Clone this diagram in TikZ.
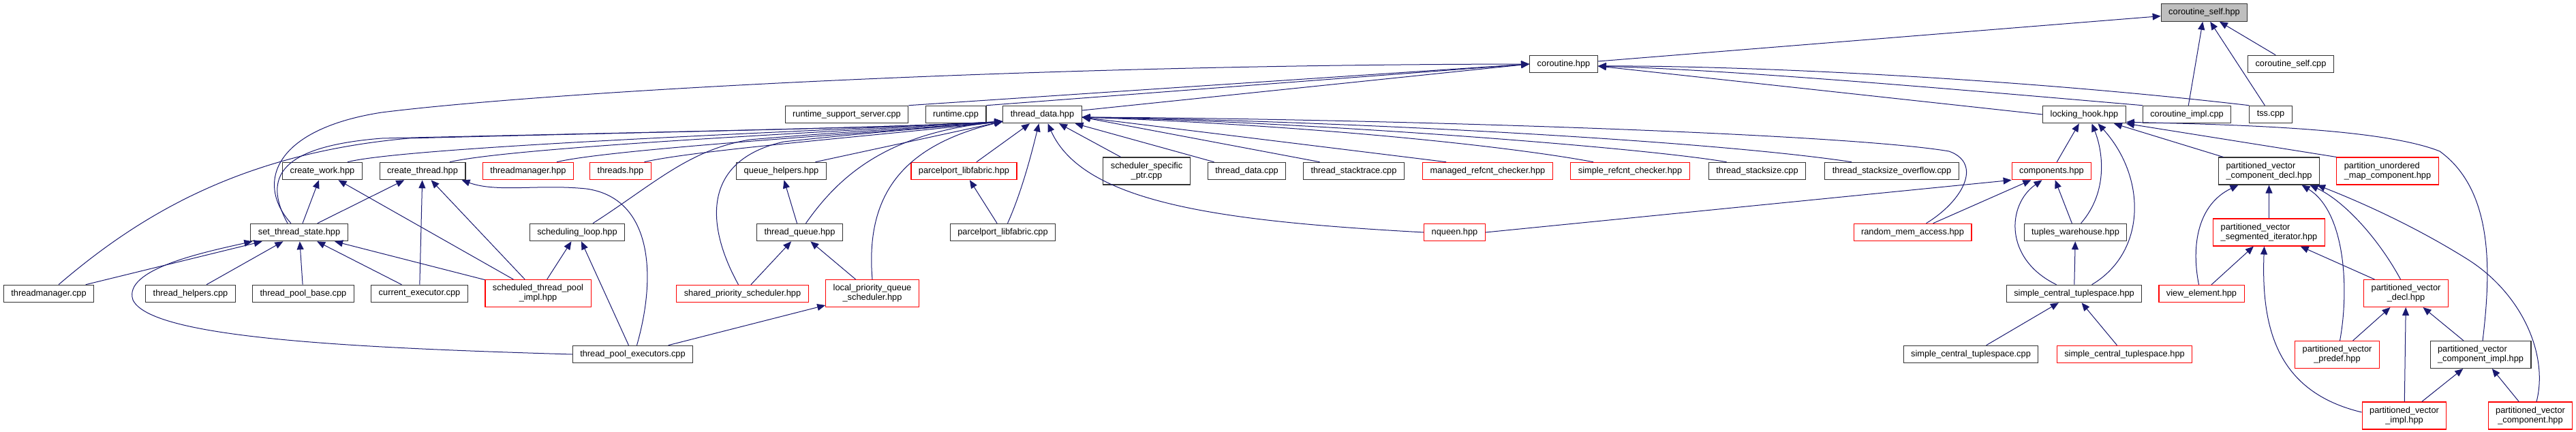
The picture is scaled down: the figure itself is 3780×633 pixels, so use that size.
\documentclass[tikz,border=0pt]{standalone}
\usepackage{fontspec}
\setmainfont{Liberation Sans}
\usepackage{tikz}
\usetikzlibrary{arrows.meta}
\usepackage{xcolor}
\definecolor{edgecolor}{RGB}{25,25,112}
\definecolor{doccolor}{RGB}{50,50,50}
\definecolor{undoccolor}{RGB}{255,0,0}
\definecolor{rootcolor}{RGB}{191,191,191}

\begin{document}
\begin{tikzpicture}[
    x=1pt, y=-1pt,
    every node/.style={font=\fontsize{12.8}{14.2}\selectfont},
    file/.style={rectangle, draw=doccolor, line width=1.1pt, fill=white, minimum height=25.5pt, inner xsep=11pt, inner ysep=2pt, align=center},
    docfile/.style={file},
    undocfile/.style={file, draw=undoccolor},
    rootfile/.style={file, fill=rootcolor},
    twoline/.style={minimum height=40pt},
    incl/.style={->, draw=edgecolor, line width=1pt, >={Triangle[length=12pt, width=10pt]}}
]

\useasboundingbox (0,0) rectangle (3780,633);

% Root file
\node[rootfile] (coroself) at (3234.5,18.5) {coroutine\_self.hpp};

% First level
\node[docfile] (coro) at (2294.5,94) {coroutine.hpp};
\node[docfile] (coroselfcpp) at (3361.5,94) {coroutine\_self.cpp};

% Second level
\node[docfile] (rtsupport) at (1242.5,168) {runtime\_support\_server.cpp};
\node[docfile] (runtime) at (1402.5,168) {runtime.cpp};
\node[docfile] (tdata) at (1529.5,168) {thread\_data.hpp};
\node[docfile] (lockhook) at (3058.5,168) {locking\_hook.hpp};
\node[docfile] (coroimpl) at (3209,168) {coroutine\_impl.cpp};
\node[docfile] (tss) at (3332,168) {tss.cpp};

% Third level
\node[docfile] (cwork) at (473,251) {create\_work.hpp};
\node[docfile] (cthread) at (620,251) {create\_thread.hpp};
\node[undocfile] (tmgrh) at (775,251) {threadmanager.hpp};
\node[undocfile] (threads) at (910.5,251) {threads.hpp};
\node[docfile] (qhelpers) at (1146.5,251) {queue\_helpers.hpp};
\node[undocfile] (pplfh) at (1414.5,251) {parcelport\_libfabric.hpp};
\node[docfile, twoline] (schedptr) at (1682.5,251) {scheduler\_specific\\\_ptr.cpp};
\node[docfile] (tdatacpp) at (1829.5,251) {thread\_data.cpp};
\node[docfile] (stacktrace) at (1986.5,251) {thread\_stacktrace.cpp};
\node[undocfile] (managedrc) at (2183,251) {managed\_refcnt\_checker.hpp};
\node[undocfile] (simplerc) at (2392,251) {simple\_refcnt\_checker.hpp};
\node[docfile] (stacksize) at (2578.5,251) {thread\_stacksize.cpp};
\node[docfile] (overflow) at (2776,251) {thread\_stacksize\_overflow.cpp};
\node[undocfile] (components) at (3010.5,251) {components.hpp};
\node[docfile, twoline, align=left] (pvcompdecl) at (3329.5,251) {partitioned\_vector\\\_component\_decl.hpp};
\node[undocfile, twoline, align=left] (pumapcomp) at (3503.5,251) {partition\_unordered\\\_map\_component.hpp};

% Fourth level
\node[docfile] (setstate) at (439,341) {set\_thread\_state.hpp};
\node[docfile] (schedloop) at (847,341) {scheduling\_loop.hpp};
\node[docfile] (tqueue) at (1173.5,341) {thread\_queue.hpp};
\node[docfile] (pplfcpp) at (1471.5,341) {parcelport\_libfabric.cpp};
\node[undocfile] (nqueen) at (2134.5,341) {nqueen.hpp};
\node[undocfile] (randmem) at (2806.5,341) {random\_mem\_access.hpp};
\node[docfile] (tuplesware) at (3045.5,341) {tuples\_warehouse.hpp};
\node[undocfile, twoline, align=left] (pvsegiter) at (3329.5,341) {partitioned\_vector\\\_segmented\_iterator.hpp};

% Fifth level
\node[docfile] (tmgrcpp) at (71.5,431) {threadmanager.cpp};
\node[docfile] (thelpers) at (279.5,431) {thread\_helpers.cpp};
\node[docfile] (poolbase) at (445,431) {thread\_pool\_base.cpp};
\node[docfile] (curexec) at (615.5,431) {current\_executor.cpp};
\node[undocfile, twoline] (schedpool) at (789.5,430.5) {scheduled\_thread\_pool\\\_impl.hpp};
\node[undocfile] (sharedprio) at (1089.5,431) {shared\_priority\_scheduler.hpp};
\node[undocfile, twoline] (localprio) at (1280,430.5) {local\_priority\_queue\\\_scheduler.hpp};
\node[docfile] (sctspace) at (3043.5,431) {simple\_central\_tuplespace.hpp};
\node[undocfile] (viewelem) at (3230.5,431) {view\_element.hpp};
\node[undocfile, twoline] (pvdecl) at (3530.5,430.5) {partitioned\_vector\\\_decl.hpp};

% Sixth level
\node[docfile] (poolexec) at (928.5,520) {thread\_pool\_executors.cpp};
\node[docfile] (sctspacecpp) at (2892,520) {simple\_central\_tuplespace.cpp};
\node[undocfile] (sctspaceh) at (3117.5,520) {simple\_central\_tuplespace.hpp};
\node[undocfile, twoline] (pvpredef) at (3429.5,520.5) {partitioned\_vector\\\_predef.hpp};
\node[docfile, twoline, align=left] (pvcompimpl) at (3640,520.5) {partitioned\_vector\\\_component\_impl.hpp};

% Seventh level
\node[undocfile, twoline] (pvimpl) at (3528,610) {partitioned\_vector\\\_impl.hpp};
\node[undocfile, twoline] (pvcomp) at (3713,610) {partitioned\_vector\\\_component.hpp};

% Meeting points of the arrows
\coordinate (tdatain) at ([yshift=3pt]tdata.south west);
\coordinate (tdataright) at ([yshift=-4pt]tdata.east);
\coordinate (cororight) at ([yshift=-3pt]coro.east);

% Into coroutine_self.hpp
\draw[incl] (coro) -- (coroself);
\draw[incl] (coroselfcpp) -- (coroself);
\draw[incl] (coroimpl) -- (coroself);
\draw[incl] (tss) -- (coroself);

% Into coroutine.hpp
\draw[incl] (lockhook.west) -- (cororight);
\draw[incl] (coroimpl.north west) .. controls (2880,132) and (2550,103) .. (cororight);
\draw[incl] (tss.north west) .. controls (2950,114) and (2550,96) .. (cororight);
\draw[incl] (rtsupport.north east) -- (coro.west);
\draw[incl] (runtime.north east) -- (coro.west);
\draw[incl] ([yshift=6pt]tdata.east) -- (coro.west);
\draw[incl] ([xshift=-12pt]setstate.north) .. controls (375,270) and (400,190) .. (560,165) .. controls (800,135) and (1500,95) .. (coro.west);

% Into thread_data.hpp from the left
\draw[incl] ([xshift=-17pt]setstate.north) .. controls (385,260) and (410,215) .. (560,203) .. controls (900,195) and (1300,188) .. (tdatain);
\draw[incl] ([xshift=14.5pt]tmgrcpp.north) .. controls (200,320) and (350,225) .. (600,203) .. controls (900,195) and (1300,188) .. (tdatain);
\draw[incl] ([xshift=37pt]cwork.north) .. controls (600,215) and (1200,192) .. (tdatain);
\draw[incl] ([xshift=40pt]cthread.north) .. controls (760,215) and (1250,192) .. (tdatain);
\draw[incl] ([xshift=42pt]tmgrh.north) .. controls (900,218) and (1300,194) .. (tdatain);
\draw[incl] ([xshift=35pt]threads.north) .. controls (1020,220) and (1320,196) .. (tdatain);
\draw[incl] ([xshift=23pt]schedloop.north) .. controls (960,270) and (1010,220) .. (1100,205) .. controls (1250,192) and (1400,185) .. (tdatain);
\draw[incl] ([xshift=50pt]qhelpers.north) -- (tdatain);
\draw[incl] ([xshift=9pt]tqueue.north) .. controls (1230,260) and (1300,195) .. (tdatain);
\draw[incl] ([xshift=-6pt]sharedprio.north) .. controls (1035,330) and (1030,235) .. (1150,208) .. controls (1300,192) and (1400,185) .. (tdatain);
\draw[incl] (localprio.north) .. controls (1270,290) and (1320,215) .. (tdatain);

% Into thread_data.hpp from below
\draw[incl] (pplfh) -- (tdata);
\draw[incl] ([xshift=7pt]pplfcpp.north) .. controls (1500,280) and (1515,220) .. ([xshift=-5pt]tdata.south);
\draw[incl] (nqueen.west) .. controls (1800,325) and (1590,300) .. ([xshift=8pt]tdata.south);
\draw[incl] (schedptr) -- (tdata);
\draw[incl] (tdatacpp) -- (tdata);

% Into thread_data.hpp from the right
\draw[incl] ([xshift=-50pt]stacktrace.north) -- (tdataright);
\draw[incl] ([xshift=-61pt]managedrc.north) -- (tdataright);
\draw[incl] ([xshift=-54pt]simplerc.north) .. controls (2200,212) and (1900,183) .. (tdataright);
\draw[incl] ([xshift=-45pt]stacksize.north) .. controls (2400,215) and (1900,178) .. (tdataright);
\draw[incl] ([xshift=-59pt]overflow.north) .. controls (2500,205) and (1950,177) .. (tdataright);
\draw[incl] ([xshift=20pt]randmem.north) .. controls (2880,295) and (2910,240) .. (2860,222) .. controls (2700,195) and (2000,174) .. (tdataright);

% Thread manager includes
\draw[incl] (setstate) -- (cwork);
\draw[incl] (setstate) -- (cthread);
\draw[incl] (tmgrcpp) -- (setstate);
\draw[incl] (thelpers) -- (setstate);
\draw[incl] (poolbase) -- (setstate);
\draw[incl] (curexec) -- (setstate);
\draw[incl] (curexec) -- (cthread);
\draw[incl] (schedpool) -- (setstate);
\draw[incl] (schedpool) -- (cwork);
\draw[incl] (schedpool) -- (cthread);
\draw[incl] (schedpool) -- (schedloop);
\draw[incl] (poolexec.west) .. controls (500,510) and (220,495) .. (195,440) .. controls (180,395) and (300,370) .. ([xshift=3pt]setstate.south west);
\draw[incl] (poolexec) -- (schedloop);
\draw[incl] ([xshift=6pt]poolexec.north) .. controls (965,400) and (955,290) .. (860,277) .. controls (790,270) and (730,283) .. ([xshift=-6pt]cthread.south east);
\draw[incl] (poolexec) -- (localprio);

% Queues and parcelport
\draw[incl] (tqueue) -- (qhelpers);
\draw[incl] (sharedprio) -- (tqueue);
\draw[incl] (localprio) -- (tqueue);
\draw[incl] (pplfcpp) -- (pplfh);

% Components and tuplespace
\draw[incl] (nqueen.east) -- (components.south west);
\draw[incl] (randmem) -- (components);
\draw[incl] (components) -- (lockhook);
\draw[incl] (tuplesware) -- (components);
\draw[incl] ([xshift=8pt]tuplesware.north) .. controls (3095,280) and (3085,220) .. ([xshift=11pt]lockhook.south);
\draw[incl] (sctspace) -- (tuplesware);
\draw[incl] ([xshift=-26pt]sctspace.north) .. controls (2940,380) and (2945,300) .. ([xshift=-14pt]components.south);
\draw[incl] ([xshift=26pt]sctspace.north) .. controls (3150,370) and (3150,260) .. ([xshift=20pt]lockhook.south);
\draw[incl] (sctspacecpp) -- (sctspace);
\draw[incl] (sctspaceh) -- (sctspace);

% Partitioned vector
\draw[incl] (pvcompdecl) -- (lockhook);
\draw[incl] (pumapcomp.north west) -- (lockhook.south east);
\draw[incl] ([xshift=3pt]pvcompimpl.north) .. controls (3655,400) and (3660,280) .. (3580,222) .. controls (3500,190) and (3300,183) .. ([yshift=2pt]lockhook.south east);
\draw[incl] (pvsegiter) -- (pvcompdecl);
\draw[incl] (viewelem) -- (pvsegiter);
\draw[incl] ([xshift=-4pt]viewelem.north) .. controls (3215,360) and (3225,300) .. ([xshift=-45pt]pvcompdecl.south);
\draw[incl] (pvdecl) -- (pvsegiter);
\draw[incl] ([xshift=-8pt]pvdecl.north) .. controls (3490,350) and (3440,295) .. ([xshift=60pt]pvcompdecl.south);
\draw[incl] ([xshift=4pt]pvpredef.north) .. controls (3448,420) and (3440,310) .. ([xshift=48pt]pvcompdecl.south);
\draw[incl] ([xshift=9pt]pvcomp.north) .. controls (3740,520) and (3700,430) .. (3620,380) .. controls (3540,330) and (3460,295) .. ([xshift=-4pt]pvcompdecl.south east);
\draw[incl] ([yshift=5pt]pvimpl.west) .. controls (3340,575) and (3318,480) .. ([xshift=-7pt]pvsegiter.south);
\draw[incl] (pvpredef) -- (pvdecl);
\draw[incl] (pvimpl) -- (pvdecl);
\draw[incl] (pvcompimpl) -- (pvdecl);
\draw[incl] (pvimpl) -- (pvcompimpl);
\draw[incl] (pvcomp) -- (pvcompimpl);

\end{tikzpicture}
\end{document}
